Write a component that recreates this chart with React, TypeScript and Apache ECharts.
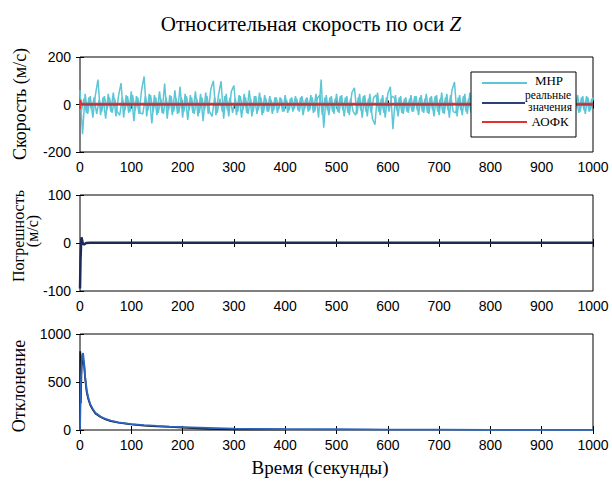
import React, { useEffect, useRef } from "react";
import * as echarts from "echarts";

// ---- Data ----
const xTicks = [0, 100, 200, 300, 400, 500, 600, 700, 800, 900, 1000];

// Plot 1: MHP (noisy) sampled every 5 s, plus samples taken half-way between them
const mhpStep = 5;
const mhpValues = [
  60, -125, 45, -40, 35, -55, 40, 105, -45, 30,
  -60, 45, -30, 50, -50, 35, 90, -55, 40, -35,
  55, -70, 35, -40, 60, 118, -50, 45, -80, 40,
  -45, 55, -35, 88, -60, 40, -45, 60, -40, 75,
  -55, 45, -65, 40, -35, 55, -50, 45, -70, 50,
  -40, 65, 100, -45, 40, 98, -60, 45, -50, 55,
  80, -45, 40, -55, 45, -35, 60, -50, 35, -40,
  50, -45, 40, -30, 35, -40, 30, -35, 30, -30,
  40, -35, 25, -30, 35, -25, 30, -45, 25, -30,
  40, -35, 45, -55, 105, -98, 40, -45, 35, -40,
  45, -35, 40, -50, 35, -45, 50, 70, -40, 45,
  -55, 40, -50, 45, -60, -85, 50, -45, 40, -55,
  45, 75, -104, 40, -50, 35, -40, 30, -35, 40,
  -30, 35, -45, 40, -35, 45, -40, 35, -50, 40,
  -45, 50, -40, 45, -55, 60, 95, -50, 40, -45,
  45, -40, 50, -45, 40, -35, 45, -40, 35, -45,
  40, -35, 45, -40, 35, -30, 40, -45, 35, -40,
  45, -35, 40, -30, 35, -45, 40, -35, 45, -40,
  35, -40, 45, -35, 40, -30, 45, -40, 35, -45,
  40, -35, 45, -35, 40, -30, 35, -40, 30, -25,
  30,
];
const mhpMidValues = [
  -30, 25, -35, 30, -25, 30, -40, 20, -30, 35,
  -25, 30, -35, 25, -30, -45, 30, -25, 35, -30,
  40, -25, 30, -35, -40, 35, -25, 40, -30, 30,
  -35, 25, -40, 30, -25, 35, -30, 25, -35, 30,
  -30, 35, -25, 30, -40, 25, -35, 30, -25, 35,
  -30, -50, 30, -35, 25, -30, 35, -25, 30, -35,
  25, -30, 35, -25, 30, -40, 25, -30, 35, -25,
  30, -35, 25, -30, 20, -25, 30, -20, 25, -30,
  20, -25, 30, -20, 25, -30, 35, -20, 30, -25,
  30, -30, 25, 40, -45, 30, -25, 30, -30, 25,
  -30, 35, -25, 30, -35, 25, -30, -45, 30, -25,
  35, -30, 25, -35, 30, 40, -30, 25, -35, 30,
  -30, 35, 30, -25, 30, -35, 25, -30, 25, -30,
  35, -25, 30, -30, 25, -35, 30, -25, 35, -30,
  25, -35, 30, -25, 40, -30, -35, 30, -25, 35,
  -30, 25, -35, 30, -25, 35, -30, 25, -35, 30,
  -25, 35, -30, 25, -35, 30, -25, 35, -30, 25,
  -35, 30, -25, 35, -30, 25, -35, 30, -25, 35,
  -30, 25, -35, 30, -25, 35, -30, 25, -35, 30,
  -25, 35, -30, 25, -35, 30, -25, 35, -30, 25,
];
const realT = [0, 100, 200, 300, 400, 500, 600, 700, 800, 900, 1000];
const realV = [0, 0, 0, 0, 0, 0, 0, 0, 0, 0, 0];
const aofkT = [0, 1, 2, 3, 100, 200, 300, 400, 500, 600, 700, 800, 900, 1000];
const aofkV = [-20, 20, 3, 3, 3, 3, 3, 3, 3, 3, 3, 3, 3, 3];

// Plot 2: error
const errT = [0, 1, 2, 3, 4, 6, 8, 12, 20, 100, 200, 300, 400, 500, 600, 700, 800, 900, 1000];
const errV = [-95, -35, -5, 12, 6, -2, -3, 0, 0.5, 0.5, 0.5, 0.5, 0.5, 0.5, 0.5, 0.5, 0.5, 0.5, 0.5];

// Plot 3: deviation
const devBlueT = [0, 2, 4, 6, 8, 10, 13, 16, 20, 25, 30, 40, 50, 60, 75, 100, 125, 150, 175, 200, 250, 300, 400, 500, 560, 600, 700, 800, 900, 1000];
const devBlueV = [0, 550, 780, 800, 700, 560, 420, 340, 270, 220, 180, 140, 115, 98, 80, 62, 50, 42, 35, 30, 22, 14, 10, 8, 7, 3, 3, 2, 2, 2];
const devBlackT = [0, 0.5, 1.5, 3, 5, 8, 10, 13, 16, 20, 25, 30, 40, 50, 60, 75, 100, 125, 150, 175, 200, 250, 300, 400];
const devBlackV = [0, 820, 280, 650, 760, 680, 540, 400, 325, 260, 210, 172, 135, 110, 92, 76, 58, 46, 38, 32, 26, 12, 8, 6];

const legendLabels = ["МНР", "реальные", "значения", "АОФК"];
const colors = { mhp: "#5cc6d6", real: "#2b3f78", aofk: "#e5312e", err: "#1d2a55", devBlue: "#2a66c2", devBlack: "#111111" };

const pair = (ts: number[], vs: number[]) => ts.map((t, i) => [t, vs[i]]);

const SANS = "'Liberation Sans', Arial, sans-serif";
const SERIF = "'Liberation Serif', 'Times New Roman', serif";

export default function App() {
  const ref = useRef<HTMLDivElement>(null);
  useEffect(() => {
    if (!ref.current) return;
    const chart = echarts.init(ref.current, null, { renderer: "svg" });
    const L = 80, W = 513;
    const grids = [
      { left: L, top: 57, width: W, height: 95 },
      { left: L, top: 195, width: W, height: 96 },
      { left: L, top: 334, width: W, height: 96 },
    ];
    const yCfg = [
      { min: -200, max: 200, interval: 200 },
      { min: -100, max: 100, interval: 100 },
      { min: 0, max: 1000, interval: 500 },
    ];
    const tick = { show: true, inside: true, length: 4, lineStyle: { color: "#000", width: 1 } };
    const xAxis: any[] = [];
    const yAxis: any[] = [];
    grids.forEach((_, g) => {
      xAxis.push({
        type: "value", gridIndex: g, min: 0, max: 1000, interval: 100, position: "bottom",
        axisLine: { show: false }, splitLine: { show: false }, axisTick: tick,
        axisLabel: { show: true, fontFamily: SANS, fontSize: 14, color: "#000", margin: 8,
          formatter: (v: number) => (xTicks.includes(v) ? String(v) : "") },
      });
      xAxis.push({
        type: "value", gridIndex: g, min: 0, max: 1000, interval: 100, position: "top",
        axisLine: { show: false }, splitLine: { show: false }, axisTick: tick, axisLabel: { show: false },
      });
      yAxis.push({
        type: "value", gridIndex: g, ...yCfg[g], position: "left",
        axisLine: { show: false }, splitLine: { show: false }, axisTick: tick,
        axisLabel: { show: true, fontFamily: SANS, fontSize: 14, color: "#000", margin: 9,
          formatter: (v: number) => String(v) },
      });
      yAxis.push({
        type: "value", gridIndex: g, ...yCfg[g], position: "right",
        axisLine: { show: false }, splitLine: { show: false }, axisTick: tick, axisLabel: { show: false },
      });
    });
    const line = (data: any, g: number, color: string, width: number, z = 2) => ({
      type: "line", xAxisIndex: g * 2, yAxisIndex: g * 2, data, showSymbol: false, symbol: "none",
      lineStyle: { color, width }, z, silent: true,
    });
    const mhp = mhpValues.map((v, i) => [i * mhpStep, v]);
    const mhpMid = mhpMidValues.map((v, i) => [i * mhpStep + mhpStep / 2, v]);
    const txt = (text: string, x: number, y: number, size: number, rot = false, z = 10) => ({
      type: "text", x, y, z, rotation: rot ? Math.PI / 2 : 0,
      style: { text, fontFamily: SERIF, fontSize: size, fill: "#000", align: "center", verticalAlign: "middle" },
    });
    chart.setOption({
      animation: false,
      backgroundColor: "#fff",
      title: {
        text: "Относительная скорость по оси {i|Z}", left: 306, top: 8, textAlign: "center",
        textStyle: { fontFamily: SERIF, fontSize: 21, fontWeight: "normal", color: "#000",
          rich: { i: { fontFamily: SERIF, fontSize: 21, fontStyle: "italic", color: "#000" } } },
      },
      grid: grids.map((g) => ({ ...g, show: true, borderColor: "#000", borderWidth: 1, backgroundColor: "transparent" })),
      xAxis, yAxis,
      series: [
        line(mhp, 0, colors.mhp, 1.5, 2),
        line(mhpMid, 0, colors.mhp, 1.5, 2),
        line(pair(realT, realV), 0, colors.real, 2, 3),
        line(pair(aofkT, aofkV), 0, colors.aofk, 2, 4),
        line(pair(errT, errV), 1, colors.err, 2.5, 3),
        line(pair(devBlackT, devBlackV), 2, colors.devBlack, 1.8, 3),
        line(pair(devBlueT, devBlueV), 2, colors.devBlue, 1.8, 4),
      ],
      graphic: [
        txt("Скорость (м/с)", 20, 104, 18, true),
        txt("Погрешность", 18, 236, 16, true),
        txt("(м/с)", 32, 231, 16, true),
        txt("Отклонение", 19, 386, 18, true),
        txt("Время (секунды)", 320, 467, 19),
        // legend
        { type: "rect", shape: { x: 471, y: 72, width: 105, height: 65 }, style: { fill: "#fff", stroke: "#000", lineWidth: 1 }, z: 100 },
        { type: "line", shape: { x1: 482, y1: 83, x2: 527, y2: 83 }, style: { stroke: colors.mhp, lineWidth: 2 }, z: 101 },
        { type: "line", shape: { x1: 482, y1: 103, x2: 525, y2: 103 }, style: { stroke: colors.real, lineWidth: 2 }, z: 101 },
        { type: "line", shape: { x1: 482, y1: 122, x2: 527, y2: 122 }, style: { stroke: colors.aofk, lineWidth: 2 }, z: 101 },
        txt(legendLabels[0], 549, 80, 13, false, 102),
        txt(legendLabels[1], 548, 95, 11.5, false, 102),
        txt(legendLabels[2], 550, 107, 11.5, false, 102),
        txt(legendLabels[3], 550, 121, 13, false, 102),
      ],
    });
    return () => chart.dispose();
  }, []);
  return <div ref={ref} style={{ width: 612, height: 481, position: "absolute", left: 0, top: 0 }} />;
}
